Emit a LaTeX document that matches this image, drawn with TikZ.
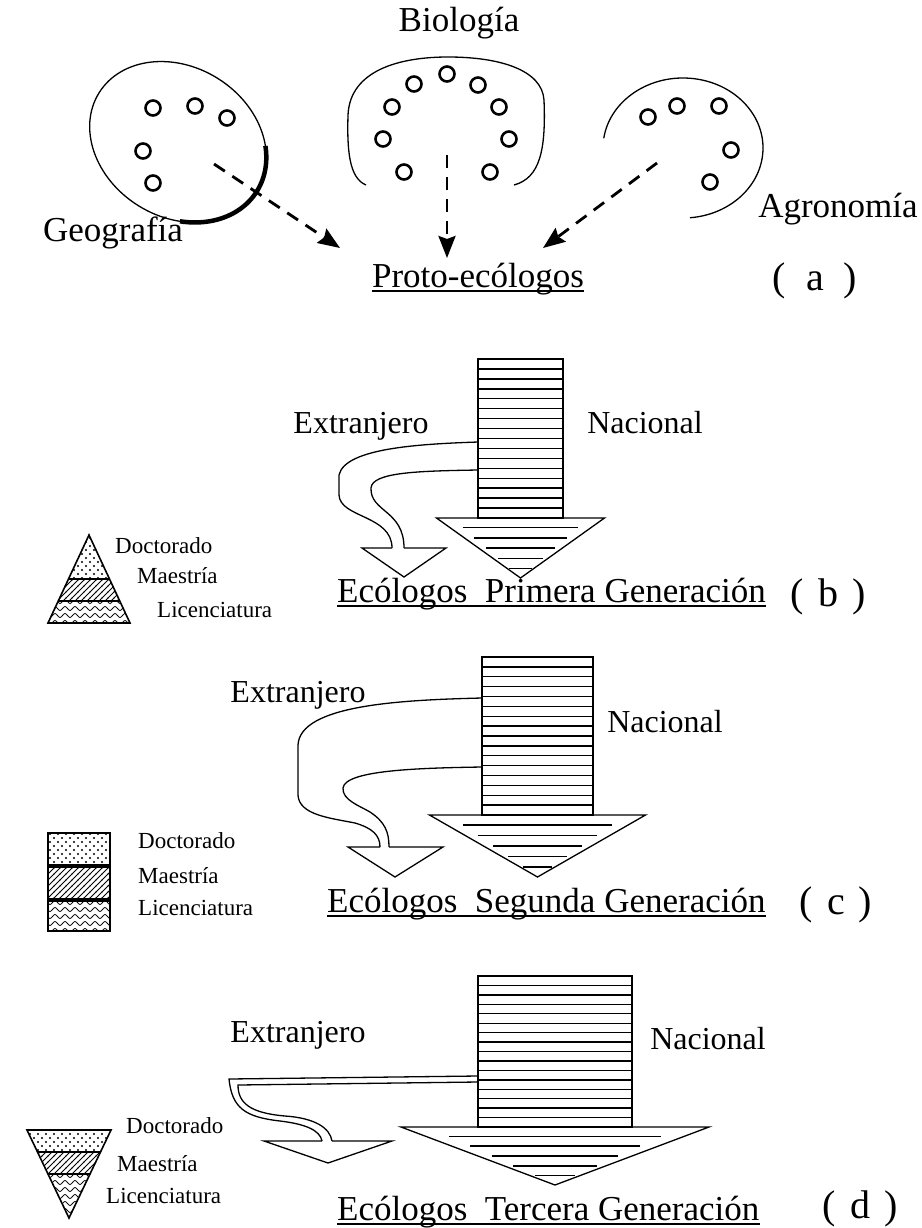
\documentclass[tikz,border=0pt]{standalone}
\usepackage{fontspec}
\setmainfont{Liberation Serif}
\usetikzlibrary{arrows.meta}
\usetikzlibrary{patterns, positioning}

% fills for the degree keys
\pgfdeclarepatternformonly{sparsedots}{\pgfqpoint{-1pt}{-1pt}}{\pgfqpoint{9pt}{9pt}}{\pgfqpoint{8pt}{8pt}}{%
    \pgfpathcircle{\pgfqpoint{2pt}{2pt}}{1.1pt}
    \pgfpathcircle{\pgfqpoint{6pt}{6pt}}{1.1pt}
    \pgfusepath{fill}}
\pgfdeclarepatternformonly{hatchlines}{\pgfqpoint{-1pt}{-1pt}}{\pgfqpoint{7pt}{7pt}}{\pgfqpoint{6pt}{6pt}}{%
    \pgfsetlinewidth{0.9pt}
    \pgfpathmoveto{\pgfqpoint{-0.2pt}{-0.2pt}}
    \pgfpathlineto{\pgfqpoint{6.2pt}{6.2pt}}
    \pgfusepath{stroke}}
\pgfdeclarepatternformonly{wavelines}{\pgfqpoint{-1pt}{-1pt}}{\pgfqpoint{11pt}{8pt}}{\pgfqpoint{10pt}{7pt}}{%
    \pgfsetlinewidth{0.8pt}
    \pgfpathmoveto{\pgfqpoint{0pt}{1.5pt}}
    \pgfpathcurveto{\pgfqpoint{1.7pt}{1.5pt}}{\pgfqpoint{3.3pt}{5.5pt}}{\pgfqpoint{5pt}{5.5pt}}
    \pgfpathcurveto{\pgfqpoint{6.7pt}{5.5pt}}{\pgfqpoint{8.3pt}{1.5pt}}{\pgfqpoint{10pt}{1.5pt}}
    \pgfusepath{stroke}}

\tikzset{
    field/.style={line width=1.3pt},
    member/.style={line width=2.6pt},
    flow/.style={line width=2.8pt, dash pattern=on 13pt off 9pt, -{Stealth[length=22pt,width=17pt,inset=3pt]}},
    stripe/.style={line width=1.4pt},
    keyline/.style={line width=1.6pt},
    lbl/.style={font=\fontsize{35}{40}\selectfont, inner sep=0pt, anchor=base},
    side/.style={font=\fontsize{32}{36}\selectfont, inner sep=0pt, anchor=base},
    key/.style={font=\fontsize{23}{26}\selectfont, inner sep=0pt, anchor=base west},
    tag/.style={font=\fontsize{40}{44}\selectfont, inner sep=0pt, anchor=base},
}

% striped column with its arrow head: left, right, top, bottom, head half width, tip
\newcommand{\stripecolumn}[6]{%
    \pgfmathsetmacro{\colmid}{(#1+#2)/2}
    \draw[stripe] (#1,#3) rectangle (#2,#4);
    \foreach \k in {1,...,15}
        \draw[stripe] (#1,{#3+\k*(#4-#3)/16}) -- (#2,{#3+\k*(#4-#3)/16});
    \draw[field] ({\colmid-#5},#4) -- ({\colmid+#5},#4) -- (\colmid,#6) -- cycle;
    \foreach \f in {0.16,0.33,0.5,0.67,0.84}
        \draw[stripe] ({\colmid-0.82*#5*(1-\f)},{#4+\f*(#6-#4)}) -- ({\colmid+0.82*#5*(1-\f)},{#4+\f*(#6-#4)});
}

\begin{document}
\begin{tikzpicture}[x=1pt, y=-1pt, >=Stealth]
    \useasboundingbox[fill=white] (0,0) rectangle (921,1228);

    % ---------- (a) ----------
    % Geografia
    \draw[field, rotate around={-32:(178,142)}] (178,142) ellipse [x radius=93, y radius=75];
    \draw[line width=4.5pt] plot[domain=-35:62, samples=40, variable=\t]
        ({178+78.9*cos(\t)-39.7*sin(\t)}, {142+49.3*cos(\t)+63.6*sin(\t)});
    \foreach \p in {(153,108),(195,106),(227,118),(143,151),(153,183)}
        \draw[member] \p circle [radius=7.5];
    \node[lbl] (geo) at (113,241) {Geografía};

    % Biologia
    \draw[field] (366,185) .. controls (349,178) and (347,150) .. (348,115)
        .. controls (350,70) and (400,57) .. (448,57)
        .. controls (500,57) and (542,70) .. (544,100)
        .. controls (546,150) and (540,178) .. (514,185);
    \foreach \p in {(447,74),(414,84),(478,85),(392,107),(499,107),(383,139),(509,139),(404,172),(490,172)}
        \draw[member] \p circle [radius=7.5];
    \node[lbl] (bio) at (459,32) {Biología};

    % Agronomia
    \draw[field] ([shift={(-172:80 and 70)}]683,148) arc [start angle=-172, end angle=85, x radius=80, y radius=70];
    \foreach \p in {(648,117),(677,106),(719,106),(731,150),(710,182)}
        \draw[member] \p circle [radius=7.5];
    \node[lbl] (agro) at (838,217) {Agronomía};

    \node[lbl] (proto) at (478,287) {Proto-ecólogos};
    \draw[line width=1.6pt] ([yshift=-4pt]proto.base west) -- ([yshift=-4pt]proto.base east);
    \node[tag] (taga) at (815,290) {(\hspace{20pt}a\hspace{20pt})};

    \coordinate (geoFrom) at (214,164);
    \coordinate (geoTo) at (340,248);
    \coordinate (bioFrom) at (447,155);
    \coordinate (bioTo) at (447,258);
    \coordinate (agroFrom) at (657,163);
    \coordinate (agroTo) at (543,248);
    \draw[flow] (geoFrom) -- (geoTo);
    \draw[flow] (bioFrom) -- (bioTo);
    \draw[flow] (agroFrom) -- (agroTo);

    % ---------- (b) ----------
    \stripecolumn{478}{563}{359}{518}{84}{578}
    \draw[field] (478,442) .. controls (420,444) and (345,448) .. (339,475) -- (339,495)
        .. controls (340,518) and (392,515) .. (392,548);
    \draw[field] (478,470) .. controls (420,471) and (372,472) .. (371,488)
        .. controls (370,512) and (404,510) .. (404,548);
    \draw[field] (392,548) -- (362,548) -- (404,577) -- (446,548) -- (404,548);
    \node[side] (extB) at (361,433) {Extranjero};
    \node[side] (nacB) at (645,433) {Nacional};

    \begin{scope}
        \clip (89,535) -- (130,623) -- (48,623) -- cycle;
        \fill[pattern=sparsedots] (40,530) rectangle (140,579);
        \fill[pattern=hatchlines] (40,579) rectangle (140,601);
        \fill[pattern=wavelines] (40,601) rectangle (140,625);
    \end{scope}
    \draw[keyline] (89,535) -- (130,623) -- (48,623) -- cycle;
    \draw[keyline] (68.5,579) -- (109.5,579);
    \draw[keyline] (58.3,601) -- (119.7,601);
    \node[key] (docB) at (115,553) {Doctorado};
    \node[key] (maeB) at (137,583) {Maestría};
    \node[key] (licB) at (157,617) {Licenciatura};

    \node[lbl, anchor=base west] (genB) at (337,602) {Ecólogos\ \ Primera Generación};
    \draw[line width=1.6pt] ([yshift=-4pt]genB.base west) -- ([yshift=-4pt]genB.base east);
    \node[tag] (tagb) at (828,606) {(\hspace{14pt}b\hspace{14pt})};

    % ---------- (c) ----------
    \stripecolumn{482}{593}{657}{815}{108}{877}
    \draw[field] (482,698) .. controls (400,700) and (300,705) .. (298,745) -- (298,795)
        .. controls (299,815) and (330,818) .. (355,823)
        .. controls (372,828) and (380,835) .. (380,847);
    \draw[field] (482,767) .. controls (420,768) and (345,770) .. (343,788)
        .. controls (342,800) and (360,806) .. (370,812)
        .. controls (385,822) and (389,832) .. (389,847);
    \draw[field] (380,847) -- (348,847) -- (395,877) -- (443,847) -- (389,847);
    \node[side] (extC) at (298,702) {Extranjero};
    \node[side] (nacC) at (665,732) {Nacional};

    \fill[pattern=sparsedots] (48,833) rectangle (110,865);
    \fill[pattern=hatchlines] (48,867) rectangle (110,899);
    \fill[pattern=wavelines] (48,901) rectangle (110,931);
    \draw[keyline] (48,833) rectangle (110,865);
    \draw[keyline] (48,867) rectangle (110,899);
    \draw[keyline] (48,901) rectangle (110,931);
    \node[key] (docC) at (138,848) {Doctorado};
    \node[key] (maeC) at (138,883) {Maestría};
    \node[key] (licC) at (138,915) {Licenciatura};

    \node[lbl, anchor=base west] (genC) at (327,912) {Ecólogos\ \ Segunda Generación};
    \draw[line width=1.6pt] ([yshift=-4pt]genC.base west) -- ([yshift=-4pt]genC.base east);
    \node[tag] (tagc) at (836,914) {(\hspace{14pt}c\hspace{14pt})};

    % ---------- (d) ----------
    \stripecolumn{478}{632}{976}{1127}{154}{1185}
    \draw[field] (478,1076) -- (229,1079) .. controls (232,1108) and (245,1117) .. (280,1121)
        .. controls (305,1124) and (320,1130) .. (322,1141);
    \draw[field] (478,1082) -- (238,1085) .. controls (238,1103) and (250,1113) .. (285,1116)
        .. controls (315,1118) and (330,1128) .. (332,1141);
    \draw[field] (322,1141) -- (264,1141) -- (328,1163) -- (392,1141) -- (332,1141);
    \node[side] (extD) at (298,1042) {Extranjero};
    \node[side] (nacD) at (708,1049) {Nacional};

    \begin{scope}
        \clip (27,1130) -- (111,1130) -- (69,1218) -- cycle;
        \fill[pattern=sparsedots] (20,1125) rectangle (120,1152);
        \fill[pattern=hatchlines] (20,1152) rectangle (120,1174);
        \fill[pattern=wavelines] (20,1174) rectangle (120,1220);
    \end{scope}
    \draw[keyline] (27,1130) -- (111,1130) -- (69,1218) -- cycle;
    \draw[keyline] (37.5,1152) -- (100.5,1152);
    \draw[keyline] (48,1174) -- (90,1174);
    \node[key] (docD) at (126,1133) {Doctorado};
    \node[key] (maeD) at (117,1171) {Maestría};
    \node[key] (licD) at (106,1203) {Licenciatura};

    \node[lbl, anchor=base west] (genD) at (337,1220) {Ecólogos\ \ Tercera Generación};
    \draw[line width=1.6pt] ([yshift=-4pt]genD.base west) -- ([yshift=-4pt]genD.base east);
    \node[tag] (tagd) at (860,1218) {(\hspace{14pt}d\hspace{14pt})};
\end{tikzpicture}
\end{document}
